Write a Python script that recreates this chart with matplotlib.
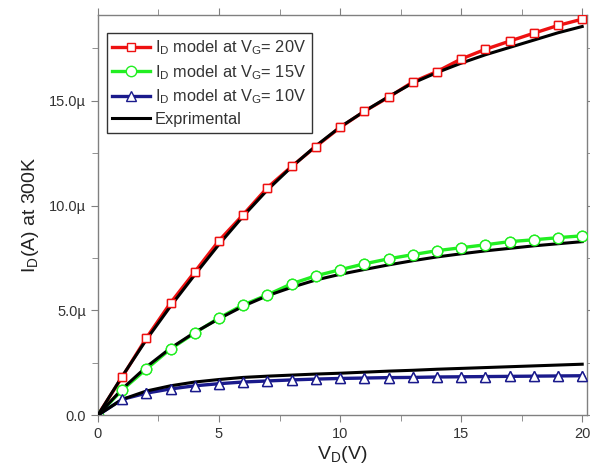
import numpy as np
import matplotlib
matplotlib.use("Agg")
import matplotlib.pyplot as plt
from matplotlib.ticker import MultipleLocator, FuncFormatter

plt.rcParams['font.family'] = ['Liberation Sans', 'DejaVu Sans']

# Données (courant en µA)
vd = np.arange(0, 21)
id_20 = [0, 1.82, 3.68, 5.36, 6.84, 8.33, 9.57, 10.86, 11.87, 12.82, 13.73,
         14.5, 15.17, 15.9, 16.4, 17.0, 17.46, 17.85, 18.23, 18.6, 18.9]
id_15 = [0, 1.2, 2.2, 3.16, 3.92, 4.64, 5.26, 5.74, 6.27, 6.65, 6.94,
         7.22, 7.46, 7.66, 7.85, 7.99, 8.13, 8.28, 8.37, 8.47, 8.56]
id_10 = [0, 0.75, 1.05, 1.25, 1.4, 1.5, 1.58, 1.63, 1.68, 1.72, 1.75,
         1.77, 1.79, 1.8, 1.82, 1.83, 1.84, 1.85, 1.86, 1.87, 1.88]

# Courbes expérimentales
exp_20 = [0, 1.85, 3.6, 5.2, 6.7, 8.15, 9.5, 10.75, 11.85, 12.85, 13.75,
          14.5, 15.2, 15.85, 16.35, 16.8, 17.2, 17.55, 17.9, 18.25, 18.55]
exp_15 = [0, 1.25, 2.3, 3.2, 3.95, 4.6, 5.2, 5.7, 6.1, 6.45, 6.72,
          6.95, 7.17, 7.37, 7.55, 7.7, 7.84, 7.96, 8.08, 8.18, 8.28]
exp_10 = [0, 0.75, 1.15, 1.4, 1.58, 1.7, 1.8, 1.86, 1.91, 1.96, 2.0,
          2.05, 2.1, 2.14, 2.19, 2.23, 2.27, 2.31, 2.35, 2.39, 2.43]

labels = [r'I$_\mathregular{D}$ model at V$_\mathregular{G}$= 20V',
          r'I$_\mathregular{D}$ model at V$_\mathregular{G}$= 15V',
          r'I$_\mathregular{D}$ model at V$_\mathregular{G}$= 10V',
          'Exprimental']

fig = plt.figure(figsize=(5.9, 4.68), dpi=100)
ax = fig.add_axes([0.166, 0.113, 0.829, 0.855])

# Modèles
ax.plot(vd, id_20, color='#ee1111', lw=2.4, marker='s', ms=6, mfc='white',
        mec='#ee1111', mew=1, label=labels[0], zorder=2)
ax.plot(vd, id_15, color='#22ee22', lw=2.4, marker='o', ms=7.5, mfc='white',
        mec='#22ee22', mew=1, label=labels[1], zorder=2)
ax.plot(vd, id_10, color='#1a1a8c', lw=2.4, marker='^', ms=7.5, mfc='white',
        mec='#1a1a8c', mew=1, label=labels[2], zorder=2)

# Expérimental
ax.plot(vd, exp_20, color='black', lw=2.2, label=labels[3], zorder=3)
ax.plot(vd, exp_15, color='black', lw=2.2, zorder=3)
ax.plot(vd, exp_10, color='black', lw=2.2, zorder=3)

# Marqueurs par-dessus
ax.plot(vd[1:], id_20[1:], ls='none', marker='s', ms=6, mfc='white', mec='#ee1111', mew=1, zorder=4)
ax.plot(vd[1:], id_15[1:], ls='none', marker='o', ms=7.5, mfc='white', mec='#22ee22', mew=1, zorder=4)
ax.plot(vd[1:], id_10[1:], ls='none', marker='^', ms=7.5, mfc='white', mec='#1a1a8c', mew=1, zorder=4)

ax.set_xlim(0, 20.2)
ax.set_ylim(0, 19.1)
ax.xaxis.set_major_locator(MultipleLocator(5))
ax.xaxis.set_minor_locator(MultipleLocator(2.5))
ax.yaxis.set_major_locator(MultipleLocator(5))
ax.yaxis.set_minor_locator(MultipleLocator(2.5))
ax.yaxis.set_major_formatter(FuncFormatter(lambda v, p: '0.0' if v == 0 else f'{v:.1f}\u00b5'))

for s in ax.spines.values():
    s.set_color('#808080')
    s.set_linewidth(1)
ax.tick_params(which='both', direction='out', top=True, right=True,
               color='#808080', labelcolor='#333333', labelsize=10.5)
ax.tick_params(which='major', length=5)
ax.tick_params(which='minor', length=4)

ax.set_xlabel(r'V$_\mathregular{D}$(V)', fontsize=14, color='#222222', labelpad=2)
ax.set_ylabel(r'I$_\mathregular{D}$(A) at 300K', fontsize=14, color='#222222', labelpad=6)

leg = ax.legend(loc='upper left', bbox_to_anchor=(0.018, 0.955), borderaxespad=0,
                fontsize=11.8, labelspacing=0.35, handlelength=2.3, handletextpad=0.3,
                fancybox=False, frameon=True, borderpad=0.35)
leg.get_frame().set_edgecolor('black')
leg.get_frame().set_linewidth(1)
for t in leg.get_texts():
    t.set_color('#333333')

fig.savefig('out.png', dpi=100)
